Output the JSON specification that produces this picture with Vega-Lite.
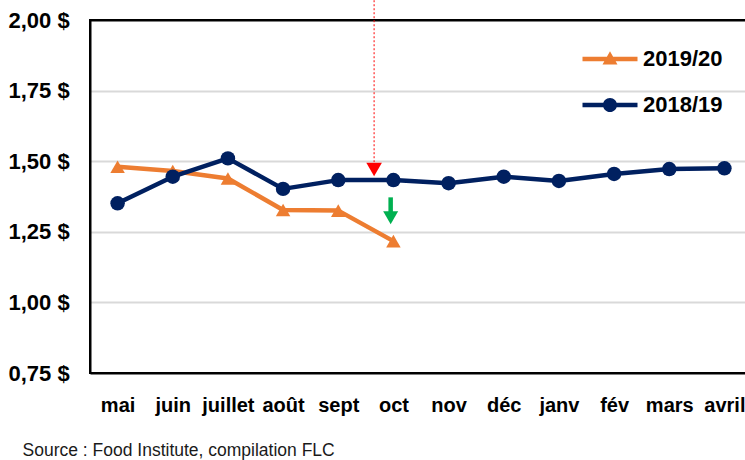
{
  "$schema": "https://vega.github.io/schema/vega-lite/v6.json",
  "width": 662,
  "height": 353,
  "autosize": {"type": "none"},
  "padding": {"left": 90, "top": 20, "right": 0, "bottom": 87},
  "background": "white",
  "title": {
    "text": "$canadiens la livre, poids net",
    "anchor": "start",
    "frame": "group",
    "dx": 160,
    "offset": -8,
    "baseline": "alphabetic",
    "font": "Liberation Sans, Arial, sans-serif",
    "fontSize": 19,
    "fontWeight": "bold",
    "color": "black"
  },
  "config": {
    "view": {"stroke": "black", "strokeWidth": 2},
    "font": "Liberation Sans, Arial, sans-serif",
    "legend": {
      "title": null,
      "orient": "none",
      "direction": "vertical",
      "padding": 0,
      "symbolSize": 484,
      "symbolStrokeWidth": 0,
      "symbolOffset": 0,
      "symbolOpacity": 1,
      "labelOffset": 22,
      "labelFontSize": 22,
      "labelFontWeight": "bold",
      "labelColor": "black"
    }
  },
  "datasets": {
    "prices": [
      {"series": "2019/20", "month": "mai", "m": 0, "price": 1.480},
      {"series": "2019/20", "month": "juin", "m": 1, "price": 1.465},
      {"series": "2019/20", "month": "juillet", "m": 2, "price": 1.439},
      {"series": "2019/20", "month": "août", "m": 3, "price": 1.327},
      {"series": "2019/20", "month": "sept", "m": 4, "price": 1.325},
      {"series": "2019/20", "month": "oct", "m": 5, "price": 1.217},
      {"series": "2018/19", "month": "mai", "m": 0, "price": 1.351},
      {"series": "2018/19", "month": "juin", "m": 1, "price": 1.445},
      {"series": "2018/19", "month": "juillet", "m": 2, "price": 1.510},
      {"series": "2018/19", "month": "août", "m": 3, "price": 1.402},
      {"series": "2018/19", "month": "sept", "m": 4, "price": 1.433},
      {"series": "2018/19", "month": "oct", "m": 5, "price": 1.433},
      {"series": "2018/19", "month": "nov", "m": 6, "price": 1.422},
      {"series": "2018/19", "month": "déc", "m": 7, "price": 1.445},
      {"series": "2018/19", "month": "janv", "m": 8, "price": 1.430},
      {"series": "2018/19", "month": "fév", "m": 9, "price": 1.455},
      {"series": "2018/19", "month": "mars", "m": 10, "price": 1.472},
      {"series": "2018/19", "month": "avril", "m": 11, "price": 1.475}
    ]
  },
  "encoding": {
    "x": {
      "field": "m",
      "type": "quantitative",
      "scale": {"domain": [-0.5, 11.5], "nice": false, "zero": false},
      "axis": {
        "values": [0, 1, 2, 3, 4, 5, 6, 7, 8, 9, 10, 11],
        "labelExpr": "['mai','juin','juillet','août','sept','oct','nov','déc','janv','fév','mars','avril'][datum.value]",
        "grid": false,
        "ticks": false,
        "tickSize": 0,
        "domain": false,
        "labelPadding": 22,
        "labelFontSize": 20,
        "labelFontWeight": "bold",
        "labelColor": "black",
        "labelOverlap": false,
        "labelFlush": false,
        "title": "Source : Food Institute, compilation FLC",
        "titleX": -68,
        "titleY": 82,
        "titleAlign": "left",
        "titleAnchor": "start",
        "titleBaseline": "alphabetic",
        "titleFontWeight": "normal",
        "titleFontSize": 17.5,
        "titleColor": "#1a1a1a"
      }
    },
    "y": {
      "field": "price",
      "type": "quantitative",
      "scale": {"domain": [0.75, 2.0], "nice": false, "zero": false},
      "axis": {
        "values": [0.75, 1, 1.25, 1.5, 1.75, 2],
        "labelExpr": "replace(format(datum.value, '.2f'), '.', ',') + ' $'",
        "labelAlign": "left",
        "labelBaseline": "middle",
        "labelPadding": 82,
        "ticks": false,
        "tickSize": 0,
        "domain": true,
        "domainColor": "black",
        "domainWidth": 2,
        "gridColor": {"condition": {"test": "datum.value == 2 || datum.value == 0.75", "value": "black"}, "value": "#d9d9d9"},
        "gridWidth": 2,
        "labelFontSize": 22,
        "labelFontWeight": "bold",
        "labelColor": "black",
        "labelOverlap": false,
        "title": null
      }
    }
  },
  "layer": [
    {
      "data": {"name": "prices"},
      "mark": {"type": "line", "strokeWidth": 4.5, "strokeJoin": "round", "strokeCap": "round"},
      "encoding": {
        "stroke": {
          "field": "series",
          "type": "nominal",
          "scale": {"domain": ["2019/20", "2018/19"], "range": ["#ED7D31", "#002060"]},
          "legend": null
        }
      }
    },
    {
      "data": {"name": "prices"},
      "transform": [{"filter": "datum.series === '2019/20'"}],
      "mark": {"type": "point", "shape": "triangle-up", "filled": true, "opacity": 1, "size": 210, "strokeWidth": 0},
      "encoding": {
        "fill": {
          "field": "series",
          "type": "nominal",
          "scale": {"domain": ["2019/20"], "range": ["#ED7D31"]},
          "legend": {
            "legendX": 509,
            "legendY": 28,
            "symbolType": "M-2.5,-0.2L2.5,-0.2L2.5,0.2L-2.5,0.2Z M0,-0.7L0.68,0.5L-0.68,0.5Z",
            "symbolFillColor": "#ED7D31"
          }
        }
      }
    },
    {
      "data": {"name": "prices"},
      "transform": [{"filter": "datum.series === '2018/19'"}],
      "mark": {"type": "point", "shape": "circle", "filled": true, "opacity": 1, "size": 210, "strokeWidth": 0},
      "encoding": {
        "color": {
          "field": "series",
          "type": "nominal",
          "scale": {"domain": ["2018/19"], "range": ["#002060"]},
          "legend": {
            "legendX": 509,
            "legendY": 74,
            "symbolType": "M-2.5,-0.2L2.5,-0.2L2.5,0.2L-2.5,0.2Z M-0.64,0A0.64,0.64 0 1,1 0.64,0A0.64,0.64 0 1,1 -0.64,0Z",
            "symbolFillColor": "#002060"
          }
        }
      }
    },
    {
      "data": {"values": [{"m": 4.65, "price": 2.07, "price_end": 1.497}]},
      "mark": {"type": "rule", "color": "#FF0000", "strokeWidth": 1, "strokeDash": [2, 2]},
      "encoding": {"y2": {"field": "price_end"}}
    },
    {
      "data": {"values": [{"m": 4.65, "price": 1.471}]},
      "mark": {"type": "point", "shape": "triangle-down", "filled": true, "color": "#FF0000", "opacity": 1, "size": 243}
    },
    {
      "data": {"values": [{"m": 4.95, "price": 1.372, "price_end": 1.315}]},
      "mark": {"type": "rule", "color": "#00B050", "strokeWidth": 4.5},
      "encoding": {"y2": {"field": "price_end"}}
    },
    {
      "data": {"values": [{"m": 4.95, "price": 1.300}]},
      "mark": {"type": "point", "shape": "triangle-down", "filled": true, "color": "#00B050", "opacity": 1, "size": 225}
    }
  ]
}
